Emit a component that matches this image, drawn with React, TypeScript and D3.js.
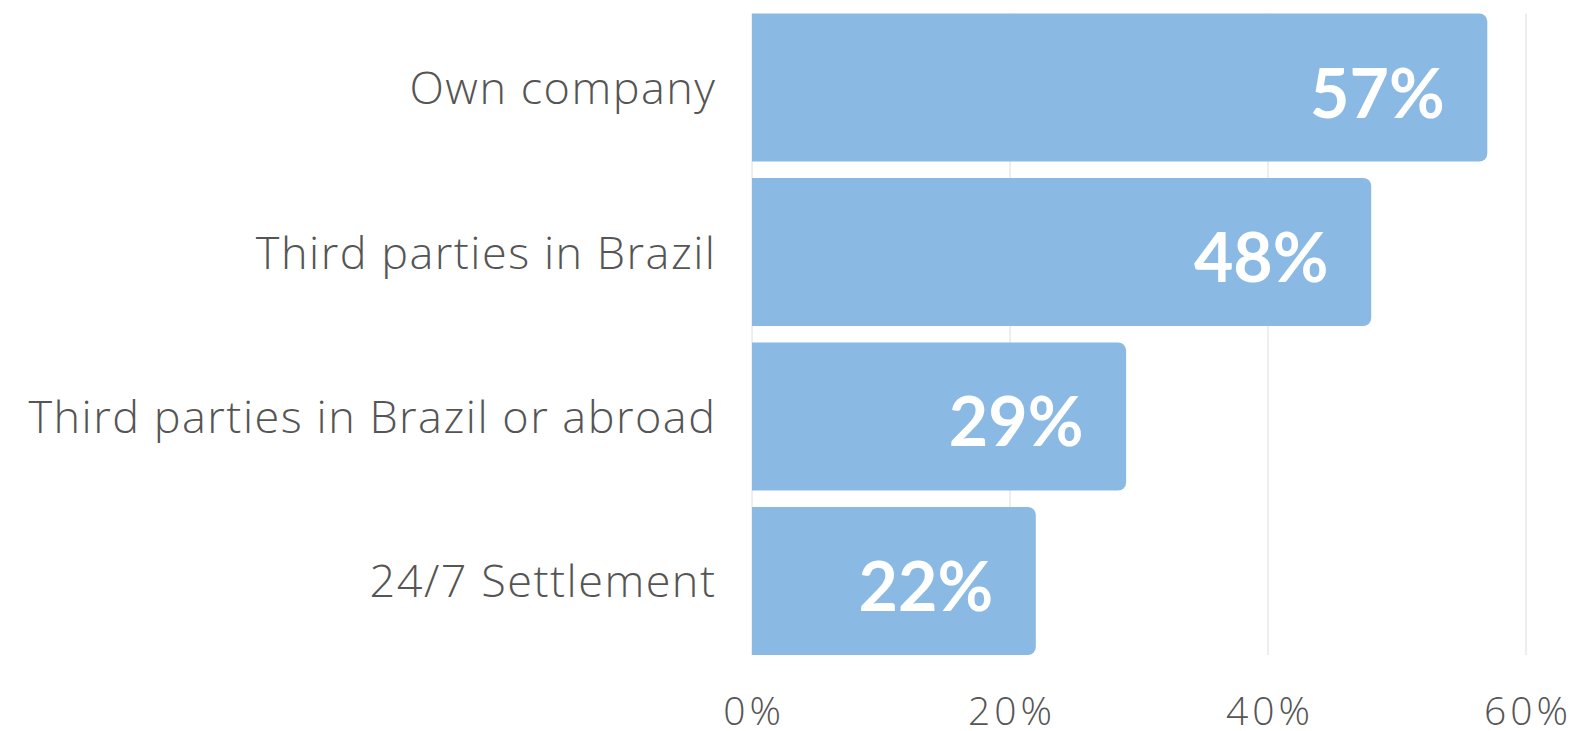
import React from "react";
import * as d3 from "d3";

const categories = ["Own company", "Third parties in Brazil", "Third parties in Brazil or abroad", "24/7 Settlement"];
const values = [57, 48, 29, 22];
const ticks = [0, 20, 40, 60];

const W = 1583;
const H = 731;
const M = { left: 752, right: 57, top: 13.5, bottom: 76 };

function barPath(x0: number, y0: number, w: number, h: number, r: number) {
  const p = d3.path();
  p.moveTo(x0, y0);
  p.lineTo(x0 + w - r, y0);
  p.arcTo(x0 + w, y0, x0 + w, y0 + r, r);
  p.lineTo(x0 + w, y0 + h - r);
  p.arcTo(x0 + w, y0 + h, x0 + w - r, y0 + h, r);
  p.lineTo(x0, y0 + h);
  p.closePath();
  return p.toString();
}

export default function App() {
  const x = d3.scaleLinear().domain([0, 60]).range([M.left, W - M.right]);
  const y = d3.scaleBand<string>().domain(categories).range([M.top, H - M.bottom]).paddingInner(0.1).paddingOuter(0);
  const bw = y.bandwidth();
  return (
    <svg width={W} height={H} style={{ position: "absolute", left: 0, top: 0, background: "#fff" }}>
      {ticks.map((t) => (
        <line key={t} x1={x(t)} x2={x(t)} y1={M.top} y2={H - M.bottom} stroke="#dcdcdc" strokeWidth={1} />
      ))}
      {categories.map((c, i) => (
        <path key={c} d={barPath(x(0), y(c)!, x(values[i]) - x(0), bw, 8)} fill="#8abae4" />
      ))}
      {categories.map((c, i) => (
        <text
          key={"v" + c}
          x={x(values[i]) - 110}
          y={y(c)! + bw / 2 + 30}
          textAnchor="middle"
          fill="#fff"
          fontFamily="Lato, 'Open Sans', sans-serif"
          fontWeight={700}
          fontSize={68}
        >
          {values[i]}%
        </text>
      ))}
      {categories.map((c) => (
        <text
          key={"c" + c}
          x={M.left - 35.5}
          y={y(c)! + bw / 2 + 16.5}
          textAnchor="end"
          fill="#555"
          fontFamily="'Open Sans', sans-serif"
          fontWeight={300}
          fontSize={45}
          letterSpacing={1.5}
        >
          {c}
        </text>
      ))}
      {ticks.map((t) => (
        <text
          key={"t" + t}
          x={x(t) + 2}
          y={725}
          textAnchor="middle"
          fill="#555"
          fontFamily="'Open Sans', sans-serif"
          fontWeight={300}
          fontSize={39}
          letterSpacing={4}
        >
          {t}%
        </text>
      ))}
    </svg>
  );
}
